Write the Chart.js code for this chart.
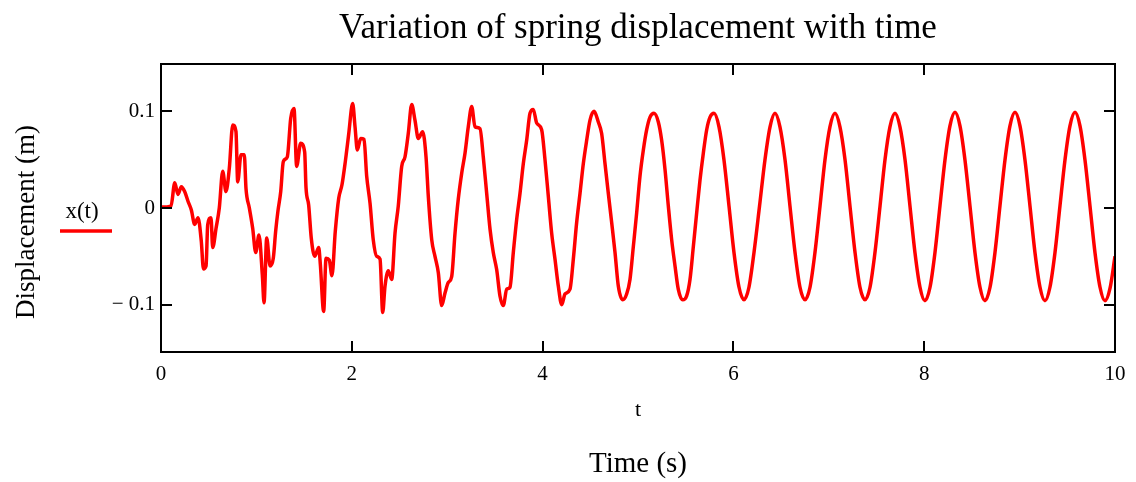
<!DOCTYPE html>
<html>
<head>
<meta charset="utf-8">
<script src="https://cdn.jsdelivr.net/npm/chart.js@4.4.0/dist/chart.umd.min.js"></script>
<style>
html,body{margin:0;padding:0;background:#fff;overflow:hidden}
canvas{display:block}
</style>
</head>
<body>
<canvas id="c" width="1136" height="482"></canvas>
<script>
// ---- data ----
const chartTitle = 'Variation of spring displacement with time';
const xAxisTitle = 't';
const xAxisCaption = 'Time (s)';
const yAxisTitle = 'Displacement (m)';
const seriesLabel = 'x(t)';

const xTicks = [0, 2, 4, 6, 8, 10];
const yTicks = [-0.1, 0, 0.1];
const yTickLabels = ['\u2212 0.1', '0', '0.1'];

const times = [
  0.000,0.105,0.144,0.178,0.213,0.248,0.283,0.318,0.353,0.388,
  0.422,0.445,0.472,0.490,0.524,0.542,0.577,0.611,0.647,0.681,
  0.716,0.752,0.786,0.804,0.839,0.873,0.891,0.926,0.961,0.993,
  1.027,1.062,1.080,1.108,1.143,1.177,1.202,1.226,1.255,1.282,
  1.324,1.360,1.394,1.422,1.464,1.506,1.520,1.548,1.575,1.611,
  1.653,1.670,1.705,1.730,1.764,1.792,1.827,1.863,1.897,1.932,
  1.967,2.009,2.034,2.058,2.093,2.128,2.156,2.191,2.225,2.261,
  2.296,2.324,2.348,2.383,2.418,2.453,2.487,2.523,2.558,2.592,
  2.628,2.662,2.697,2.743,2.778,2.802,2.838,2.872,2.907,2.942,
  2.977,3.012,3.047,3.082,3.116,3.152,3.187,3.221,3.257,3.291,
  3.344,3.378,3.414,3.449,3.483,3.519,3.553,3.588,3.624,3.658,
  3.693,3.728,3.763,3.798,3.833,3.868,3.902,3.938,3.990,4.025,
  4.060,4.095,4.130,4.165,4.200,4.235,4.287,4.322,4.357,4.392,
  4.427,4.462,4.497,4.539,4.584,4.619,4.654,4.689,4.724,4.759,
  4.794,4.840,4.881,4.916,4.951,4.986,5.021,5.056,5.091,5.126,
  5.168,5.213,5.248,5.283,5.318,5.353,5.388,5.422,5.468,5.510,
  5.545,5.580,5.615,5.650,5.685,5.720,5.755,5.797,5.849,5.901,
  5.954,6.006,6.059,6.111,6.163,6.216,6.274,6.331,6.384,6.436,
  6.488,6.541,6.593,6.646,6.698,6.751,6.803,6.855,6.908,6.960,
  7.012,7.065,7.117,7.170,7.222,7.275,7.327,7.379,7.432,7.484,
  7.537,7.589,7.641,7.694,7.746,7.799,7.851,7.903,7.956,8.008,
  8.061,8.113,8.165,8.218,8.270,8.323,8.375,8.427,8.480,8.532,
  8.585,8.637,8.690,8.742,8.794,8.847,8.899,8.952,9.004,9.056,
  9.109,9.161,9.214,9.266,9.318,9.371,9.423,9.476,9.528,9.581,
  9.633,9.685,9.738,9.790,9.843,9.895,9.948,10.000
];

const displacement = [
  0.001,0.002,0.026,0.014,0.022,0.017,0.007,-0.002,-0.017,-0.010,
  -0.034,-0.063,-0.060,-0.017,-0.010,-0.041,-0.021,0.000,0.038,0.017,
  0.041,0.086,0.079,0.027,0.055,0.055,0.020,0.000,-0.021,-0.046,
  -0.028,-0.069,-0.098,-0.031,-0.060,-0.052,-0.024,-0.003,0.017,0.048,
  0.053,0.093,0.103,0.043,0.067,0.058,0.021,0.003,-0.031,-0.050,
  -0.041,-0.058,-0.107,-0.052,-0.054,-0.070,-0.024,0.010,0.024,0.048,
  0.076,0.108,0.084,0.060,0.072,0.071,0.033,0.005,-0.033,-0.050,
  -0.053,-0.108,-0.081,-0.065,-0.074,-0.026,0.002,0.043,0.053,0.077,
  0.107,0.091,0.072,0.079,0.053,0.012,-0.033,-0.050,-0.067,-0.101,
  -0.088,-0.077,-0.071,-0.026,0.009,0.036,0.057,0.084,0.105,0.084,
  0.082,0.053,0.015,-0.022,-0.046,-0.064,-0.091,-0.101,-0.084,-0.082,
  -0.046,-0.012,0.015,0.046,0.070,0.098,0.102,0.088,0.081,0.050,
  0.012,-0.026,-0.053,-0.081,-0.100,-0.089,-0.084,-0.053,-0.015,0.015,
  0.046,0.070,0.091,0.100,0.089,0.077,0.046,0.015,-0.015,-0.046,
  -0.081,-0.095,-0.089,-0.074,-0.040,-0.005,0.033,0.060,0.081,0.094,
  0.098,0.089,0.070,0.040,0.002,-0.033,-0.060,-0.084,-0.095,-0.091,
  -0.074,-0.040,-0.005,0.029,0.057,0.081,0.094,0.098,0.084,0.050,
  0.002,-0.046,-0.082,-0.095,-0.082,-0.046,0.002,0.050,0.084,0.098,
  0.084,0.050,0.002,-0.046,-0.082,-0.095,-0.082,-0.046,0.002,0.050,
  0.084,0.098,0.084,0.050,0.002,-0.046,-0.082,-0.095,-0.082,-0.046,
  0.002,0.050,0.084,0.098,0.084,0.050,0.002,-0.046,-0.082,-0.096,
  -0.082,-0.046,0.002,0.050,0.085,0.099,0.085,0.050,0.002,-0.046,
  -0.082,-0.096,-0.082,-0.046,0.002,0.050,0.085,0.099,0.085,0.050,
  0.002,-0.046,-0.082,-0.096,-0.082,-0.046,0.002,0.050,0.085,0.099,
  0.085,0.050,0.002,-0.046,-0.082,-0.096,-0.083,-0.050
];

// ---- chart ----
const FONT = "'Liberation Serif', 'Times New Roman', serif";
const LINE_COLOR = '#ff0000';

const points = times.map((t, i) => ({ x: t, y: displacement[i] }));

const framePlugin = {
  id: 'mathcadFrame',
  afterDatasetsDraw(chart) {
    const { ctx, chartArea: { left, right, top, bottom }, scales: { x, y } } = chart;
    ctx.save();
    ctx.strokeStyle = '#000';
    ctx.lineWidth = 2;
    ctx.strokeRect(left, top, right - left, bottom - top);
    ctx.beginPath();
    xTicks.forEach(v => {
      const px = Math.round(x.getPixelForValue(v));
      ctx.moveTo(px, bottom); ctx.lineTo(px, bottom - 11);
      ctx.moveTo(px, top); ctx.lineTo(px, top + 11);
    });
    yTicks.forEach(v => {
      const py = Math.round(y.getPixelForValue(v));
      ctx.moveTo(left, py); ctx.lineTo(left + 11, py);
      ctx.moveTo(right, py); ctx.lineTo(right - 11, py);
    });
    ctx.stroke();
    ctx.restore();
  },
  afterDraw(chart) {
    const { ctx } = chart;
    ctx.save();
    // y axis title
    ctx.translate(27, 222);
    ctx.rotate(-Math.PI / 2);
    ctx.font = '27px ' + FONT;
    ctx.fillStyle = '#000';
    ctx.textAlign = 'center';
    ctx.textBaseline = 'middle';
    ctx.fillText(yAxisTitle, 0, 0);
    ctx.restore();
    // legend
    ctx.save();
    ctx.font = '23px ' + FONT;
    ctx.fillStyle = '#000';
    ctx.textAlign = 'center';
    ctx.textBaseline = 'middle';
    ctx.fillText(chart.data.datasets[0].label, 82, 212);
    ctx.strokeStyle = chart.data.datasets[0].borderColor;
    ctx.lineWidth = 3.5;
    ctx.beginPath();
    ctx.moveTo(60, 231); ctx.lineTo(112, 231);
    ctx.stroke();
    ctx.restore();
  }
};

new Chart(document.getElementById('c'), {
  type: 'line',
  data: {
    datasets: [{
      label: seriesLabel,
      data: points,
      borderColor: LINE_COLOR,
      borderWidth: 3.5,
      pointRadius: 0,
      fill: false,
      cubicInterpolationMode: 'monotone'
    }]
  },
  options: {
    responsive: false,
    animation: false,
    devicePixelRatio: 1,
    layout: { padding: { left: 0, right: 21, top: 0, bottom: 0 } },
    plugins: {
      legend: { display: false },
      tooltip: { enabled: false },
      title: {
        display: true,
        text: chartTitle,
        fullSize: false,
        color: '#000',
        font: { family: FONT, size: 35, weight: 'normal' },
        padding: { top: 8, bottom: 14 }
      },
      subtitle: {
        display: true,
        position: 'bottom',
        text: xAxisCaption,
        fullSize: false,
        color: '#000',
        font: { family: FONT, size: 29, weight: 'normal' },
        padding: { top: 0, bottom: 0 }
      }
    },
    scales: {
      x: {
        type: 'linear',
        min: 0,
        max: 10,
        afterBuildTicks: s => { s.ticks = xTicks.map(v => ({ value: v })); },
        afterFit: s => { s.height = 95.2; },
        grid: { display: false, drawTicks: false },
        border: { display: false },
        ticks: { color: '#000', font: { family: FONT, size: 21 }, padding: 10, maxRotation: 0 },
        title: {
          display: true,
          text: xAxisTitle,
          color: '#000',
          font: { family: FONT, size: 22 },
          padding: { top: 0, bottom: 24 }
        }
      },
      y: {
        type: 'linear',
        min: -0.149,
        max: 0.149,
        afterBuildTicks: s => { s.ticks = yTicks.map(v => ({ value: v })); },
        afterFit: s => { s.width = 161; },
        grid: { display: false, drawTicks: false },
        border: { display: false },
        ticks: {
          color: '#000',
          font: { family: FONT, size: 21 },
          padding: 6,
          callback: v => { const i = yTicks.indexOf(v); return i >= 0 ? yTickLabels[i] : ''; }
        },
        title: { display: false }
      }
    }
  },
  plugins: [framePlugin]
});
</script>
</body>
</html>
